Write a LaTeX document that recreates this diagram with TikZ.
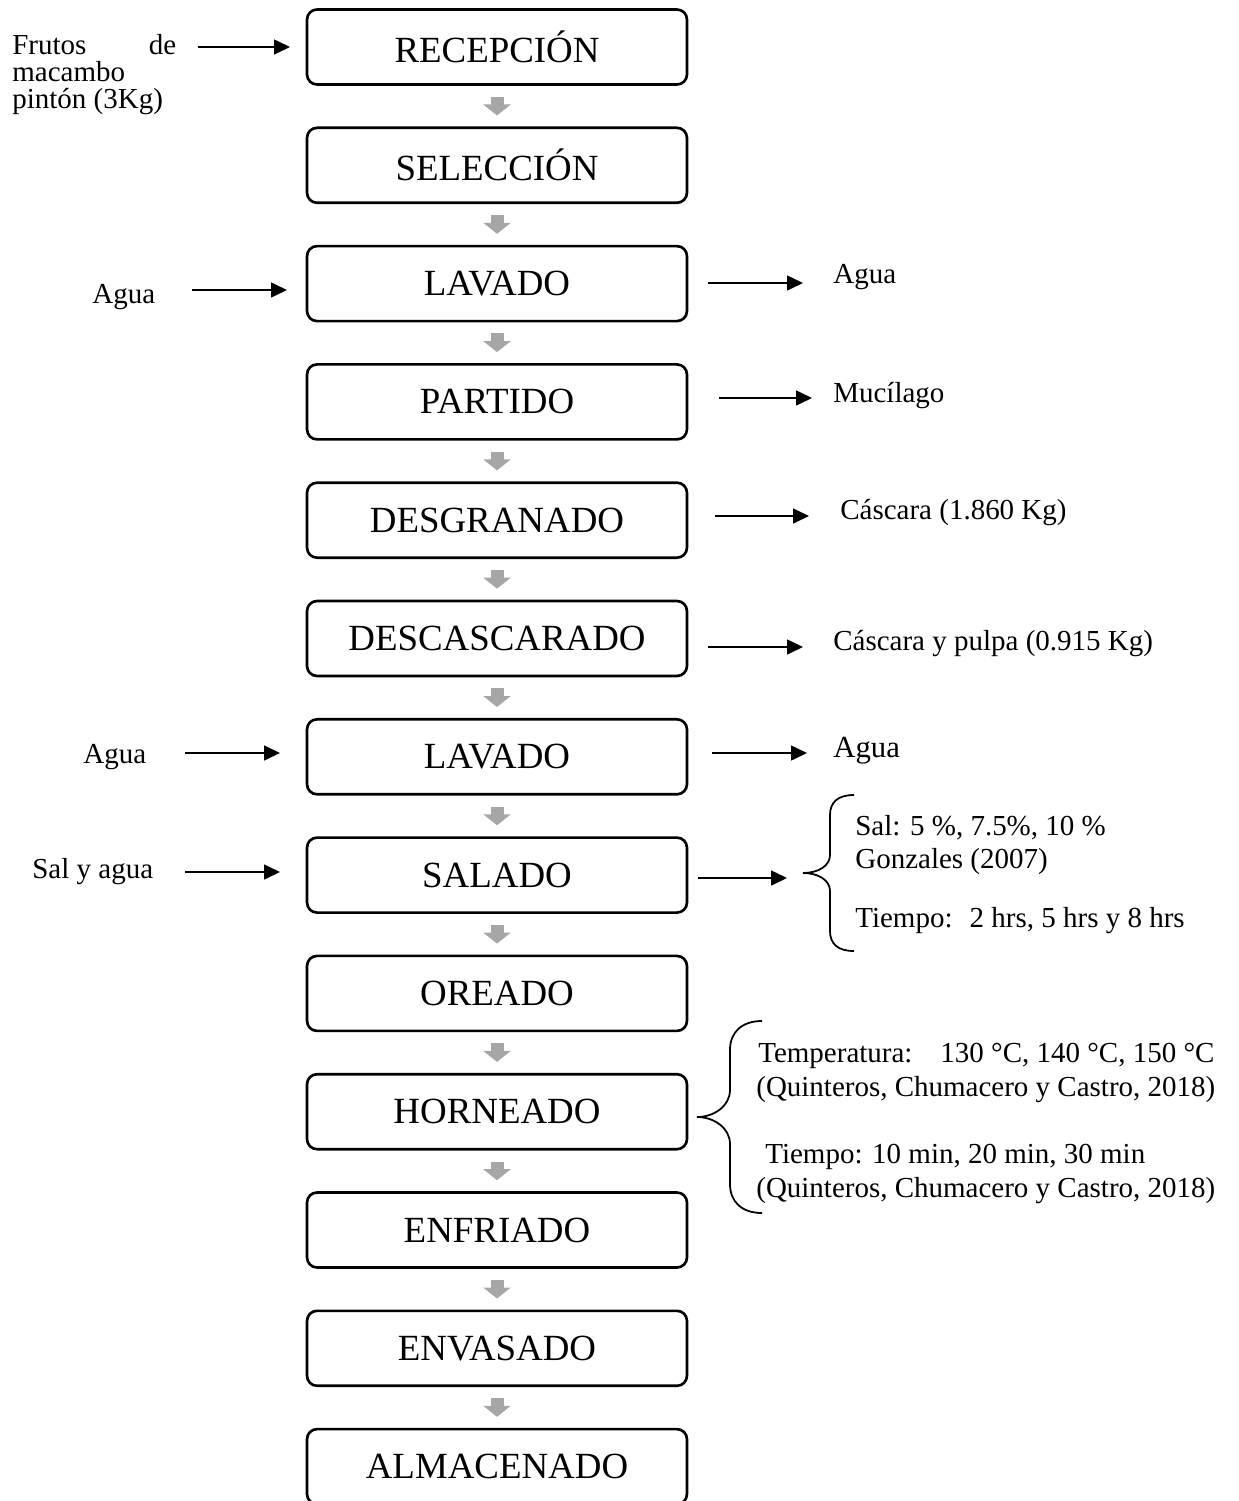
\documentclass[tikz,border=0pt]{standalone}
\usepackage{fontspec}
\setmainfont{Liberation Serif}
\usetikzlibrary{arrows.meta}
\definecolor{flujo}{RGB}{166,166,166}
\begin{document}
\begin{tikzpicture}[x=0.02cm, y=-0.02cm,
  paso/.style={draw, rounded corners=0.2cm, line width=1.5pt, minimum width=7.6cm, minimum height=1.5cm, inner sep=0pt, font=\fontsize{21}{25}\selectfont},
  baja/.style={draw=flujo, line width=0.26cm, shorten <=0.22cm, shorten >=0.22cm, -{Triangle[length=0.22cm, width=0.54cm]}},
  flecha/.style={line width=0.9pt, -{Triangle[length=0.32cm, width=0.3cm]}},
  txt/.style={anchor=base west, inner sep=0pt, font=\fontsize{16.5}{19}\selectfont},
  llave/.style={line width=1pt}]
\useasboundingbox (0,0) rectangle (1238,1501);
\node[paso] (rec) at (497,47){RECEPCIÓN};
\node[paso] (sel) at (497,165.3){SELECCIÓN};
\node[paso] (lav1) at (497,283.6){LAVADO};
\node[paso] (par) at (497,401.9){PARTIDO};
\node[paso] (desg) at (497,520.2){DESGRANADO};
\node[paso] (desc) at (497,638.5){DESCASCARADO};
\node[paso] (lav2) at (497,756.8){LAVADO};
\node[paso] (sal) at (497,875.1){SALADO};
\node[paso] (ore) at (497,993.4){OREADO};
\node[paso] (hor) at (497,1111.7){HORNEADO};
\node[paso] (enf) at (497,1230){ENFRIADO};
\node[paso] (env) at (497,1348.3){ENVASADO};
\node[paso] (alm) at (497,1466.6){ALMACENADO};
\draw[baja](rec) -- (sel);
\draw[baja](sel) -- (lav1);
\draw[baja](lav1) -- (par);
\draw[baja](par) -- (desg);
\draw[baja](desg) -- (desc);
\draw[baja](desc) -- (lav2);
\draw[baja](lav2) -- (sal);
\draw[baja](sal) -- (ore);
\draw[baja](ore) -- (hor);
\draw[baja](hor) -- (enf);
\draw[baja](enf) -- (env);
\draw[baja](env) -- (alm);
% entradas
\node[txt] (fr1) at (12,54){\makebox[3.28cm][s]{Frutos de}};
\node[txt] (fr2) at (12,81){macambo};
\node[txt] (fr3) at (12,108){pintón (3Kg)};
\node[txt] (ent1) at (92,303){Agua};
\node[txt] (ent2) at (83,763){Agua};
\node[txt] (ent3) at (32,878){Sal y agua};
\coordinate (e1a) at (198,47);
\coordinate (e1b) at (290,47);
\coordinate (e2a) at (192,290);
\coordinate (e2b) at (287,290);
\coordinate (e3a) at (185,753);
\coordinate (e3b) at (280,753);
\coordinate (e4a) at (185,872);
\coordinate (e4b) at (280,872);
\draw[flecha](e1a) -- (e1b);
\draw[flecha](e2a) -- (e2b);
\draw[flecha](e3a) -- (e3b);
\draw[flecha](e4a) -- (e4b);
% salidas
\node[txt] (sal1) at (833,283){Agua};
\node[txt] (sal2) at (833,402){Mucílago};
\node[txt] (sal3) at (840,519){Cáscara (1.860 Kg)};
\node[txt] (sal4) at (833,650){Cáscara y pulpa (0.915 Kg)};
\node[txt, font=\fontsize{17.5}{20}\selectfont] (sal5) at (833,757){Agua};
\coordinate (s1a) at (708,283);
\coordinate (s1b) at (803,283);
\coordinate (s2a) at (719,398);
\coordinate (s2b) at (812,398);
\coordinate (s3a) at (715,516);
\coordinate (s3b) at (809,516);
\coordinate (s4a) at (708,647);
\coordinate (s4b) at (803,647);
\coordinate (s5a) at (712,753);
\coordinate (s5b) at (807,753);
\coordinate (s6a) at (698,878);
\coordinate (s6b) at (787,878);
\draw[flecha](s1a) -- (s1b);
\draw[flecha](s2a) -- (s2b);
\draw[flecha](s3a) -- (s3b);
\draw[flecha](s4a) -- (s4b);
\draw[flecha](s5a) -- (s5b);
\draw[flecha](s6a) -- (s6b);
% condiciones del salado
\draw[llave] (854,795) .. controls (838,795) and (830,802) .. (830,815) -- (830,855) .. controls (830,866) and (818,873) .. (803,873) .. controls (818,873) and (830,880) .. (830,891) -- (830,931) .. controls (830,944) and (838,951) .. (854,951);
\node[txt] (sa1) at (855,835){Sal: 5 \%, 7.5\%, 10 \%};
\node[txt] (sa2) at (855,868){Gonzales (2007)};
\node[txt] (sa3) at (855,927){Tiempo:\hspace{0.15cm} 2 hrs, 5 hrs y 8 hrs};
% condiciones del horneado
\draw[llave] (762,1021) .. controls (742,1021) and (730,1032) .. (730,1050) -- (730,1090) .. controls (730,1106) and (714,1117) .. (697,1117) .. controls (714,1117) and (730,1128) .. (730,1144) -- (730,1184) .. controls (730,1202) and (742,1213) .. (762,1213);
\node[txt] (ho1) at (758,1062){Temperatura:\hspace{0.56cm}130 °C, 140 °C, 150 °C};
\node[txt] (ho2) at (756,1096){(Quinteros, Chumacero y Castro, 2018)};
\node[txt] (ho3) at (765,1163){Tiempo: 10 min, 20 min, 30 min};
\node[txt] (ho4) at (756,1197){(Quinteros, Chumacero y Castro, 2018)};
\end{tikzpicture}
\end{document}
